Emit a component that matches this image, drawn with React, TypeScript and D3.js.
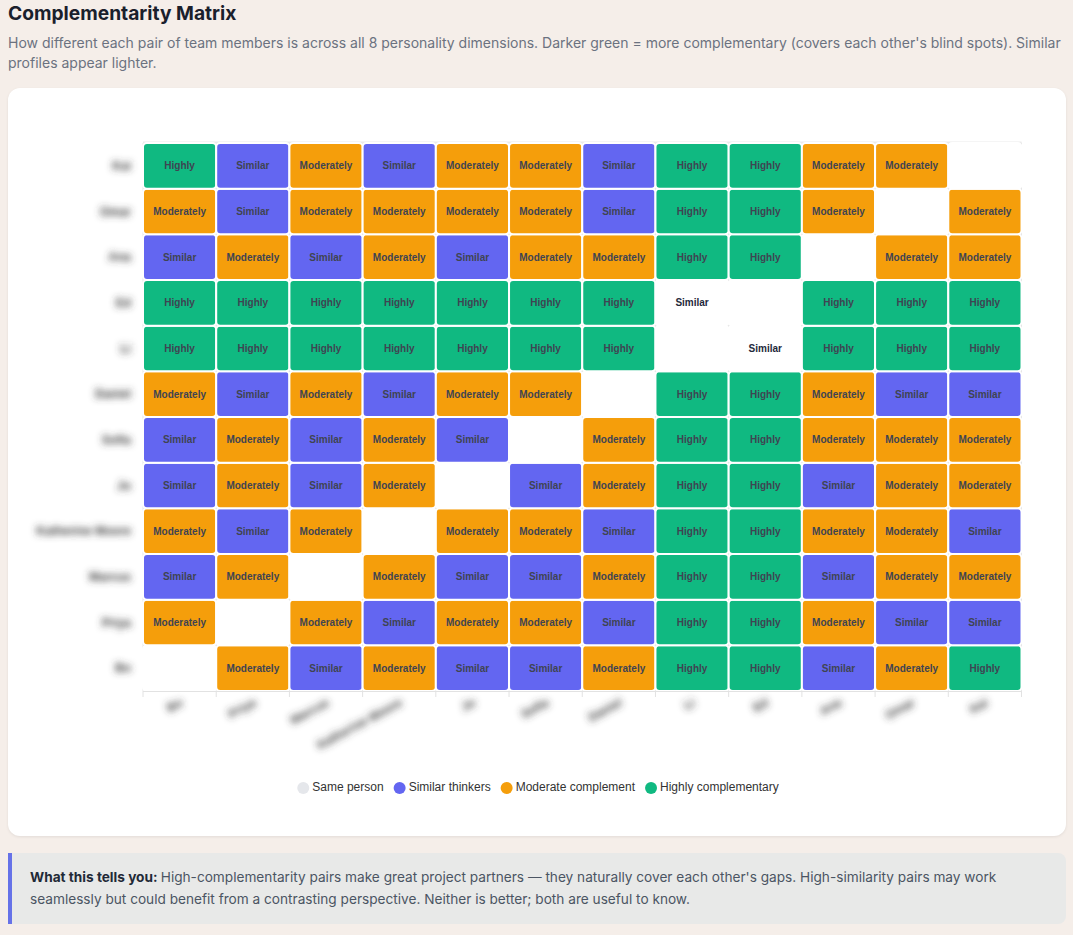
import React, { useMemo } from "react";
import * as d3 from "d3";

// Team members, in index order (first member sits at the bottom-left of the matrix)
const people = [
  "Bo", "Priya", "Marcus", "Katherine Moore", "Jo", "Sofia",
  "Daniel", "Li", "Ed", "Ana", "Omar", "Kai",
];

// Pair categories: "-" same person, "S" similar, "M" moderately, "H" highly, "s" near-identical (similar)
const pairMatrix = [
  ["-", "M", "S", "M", "S", "S", "M", "H", "H", "S", "M", "H"],
  ["M", "-", "M", "S", "M", "M", "S", "H", "H", "M", "S", "S"],
  ["S", "M", "-", "M", "S", "S", "M", "H", "H", "S", "M", "M"],
  ["M", "S", "M", "-", "M", "M", "S", "H", "H", "M", "M", "S"],
  ["S", "M", "S", "M", "-", "S", "M", "H", "H", "S", "M", "M"],
  ["S", "M", "S", "M", "S", "-", "M", "H", "H", "M", "M", "M"],
  ["M", "S", "M", "S", "M", "M", "-", "H", "H", "M", "S", "S"],
  ["H", "H", "H", "H", "H", "H", "H", "-", "s", "H", "H", "H"],
  ["H", "H", "H", "H", "H", "H", "H", "s", "-", "H", "H", "H"],
  ["S", "M", "S", "M", "S", "M", "M", "H", "H", "-", "M", "M"],
  ["M", "S", "M", "M", "M", "M", "S", "H", "H", "M", "-", "M"],
  ["H", "S", "M", "S", "M", "M", "S", "H", "H", "M", "M", "-"],
];

const cellLabels: Record<string, string> = {
  "-": "",
  S: "Similar",
  s: "Similar",
  M: "Moderately",
  H: "Highly",
};

const cellColors: Record<string, string> = {
  "-": "#ffffff",
  s: "#ffffff",
  S: "#6366f1",
  M: "#f59e0b",
  H: "#10b981",
};

const legendItems = [
  { label: "Same person", color: "#e5e7eb" },
  { label: "Similar thinkers", color: "#6366f1" },
  { label: "Moderate complement", color: "#f59e0b" },
  { label: "Highly complementary", color: "#10b981" },
];

const W = 1073;
const H = 935;
const plot = { left: 143, right: 1021.5, top: 143, bottom: 691 };

function measure(text: string, font: string): number {
  const ctx = document.createElement("canvas").getContext("2d");
  if (!ctx) return text.length * 6;
  ctx.font = font;
  return ctx.measureText(text).width;
}

function Matrix() {
  const idx = people.map((_, i) => i);
  const x = d3.scaleBand<number>().domain(idx).range([plot.left, plot.right]);
  const y = d3
    .scaleBand<number>()
    .domain([...idx].reverse())
    .range([plot.top, plot.bottom]);
  const bw = x.bandwidth();
  const bh = y.bandwidth();

  const cells = useMemo(() => {
    const out: { i: number; j: number; code: string }[] = [];
    pairMatrix.forEach((row, i) => row.forEach((code, j) => out.push({ i, j, code })));
    return out;
  }, []);

  const legendFont = "12px Arial, 'Liberation Sans', sans-serif";
  const widths = legendItems.map((d) => measure(d.label, legendFont));
  const itemW = widths.map((w) => 9 + w);
  const gap = 16;
  const total = d3.sum(itemW) + gap * (legendItems.length - 1) + 6;
  let cursor = 538 - total / 2 + 6;
  const legendPos = itemW.map((w) => {
    const p = cursor;
    cursor += w + gap;
    return p;
  });

  const gridXs = [...idx.map((i) => x(i) as number), plot.right];
  const gridYs = [...idx.map((i) => y(i) as number), plot.top];

  return (
    <svg
      width={W}
      height={H}
      style={{ position: "absolute", left: 0, top: 0, pointerEvents: "none" }}
    >
      <defs>
        <filter id="soft" x="-40%" y="-100%" width="180%" height="300%">
          <feGaussianBlur stdDeviation="3.6" />
        </filter>
      </defs>

      {/* grid behind the cells */}
      <g stroke="#e6e6e6" strokeWidth={1}>
        {gridXs.map((gx, k) => (
          <line key={"gx" + k} x1={gx} x2={gx} y1={plot.top} y2={plot.bottom} />
        ))}
        {gridYs.map((gy, k) => (
          <line key={"gy" + k} x1={plot.left} x2={plot.right} y1={gy} y2={gy} />
        ))}
      </g>
      <line x1={plot.left} x2={plot.right} y1={plot.top - 0.5} y2={plot.top - 0.5} stroke="#ebebeb" strokeWidth={2} />

      {/* cells */}
      <g>
        {cells.map(({ i, j, code }) => (
          <rect
            key={`c${i}-${j}`}
            x={x(j)}
            y={y(i)}
            width={bw}
            height={bh}
            rx={4}
            fill={cellColors[code]}
            stroke="#ffffff"
            strokeWidth={2}
          />
        ))}
      </g>
      <g
        fontFamily="Arial, 'Liberation Sans', sans-serif"
        fontSize={10}
        fontWeight={700}
        textAnchor="middle"
      >
        {cells
          .filter((c) => cellLabels[c.code])
          .map(({ i, j, code }) => (
            <text
              key={`t${i}-${j}`}
              x={(x(j) as number) + bw / 2}
              y={(y(i) as number) + bh / 2 + 3.5}
              fill={code === "s" ? "#1e293b" : "#3f4452"}
            >
              {cellLabels[code]}
            </text>
          ))}
      </g>

      {/* bottom axis */}
      <g stroke="#e2e2e2" strokeWidth={1}>
        <line x1={plot.left} x2={plot.right} y1={plot.bottom + 0.5} y2={plot.bottom + 0.5} />
        {gridXs.map((gx, k) => (
          <line key={"tk" + k} x1={gx} x2={gx} y1={plot.bottom} y2={plot.bottom + 6} />
        ))}
      </g>

      {/* member names, softened */}
      <g
        filter="url(#soft)"
        fontFamily="Arial, 'Liberation Sans', sans-serif"
        fontSize={12}
        fontWeight={700}
        fill="#3a3a3a"
      >
        {idx.map((i) => (
          <text
            key={"yl" + i}
            x={131}
            y={(y(i) as number) + bh / 2 + 4}
            textAnchor="end"
          >
            {people[i]}
          </text>
        ))}
        {idx.map((i) => {
          const cx = (x(i) as number) + bw / 2 + 4;
          const cy = plot.bottom + 14;
          return (
            <text
              key={"xl" + i}
              transform={`translate(${cx},${cy}) rotate(-28)`}
              textAnchor="end"
            >
              {people[i]}
            </text>
          );
        })}
      </g>

      {/* legend */}
      <g fontFamily="Arial, 'Liberation Sans', sans-serif" fontSize={12} fill="#333">
        {legendItems.map((d, k) => (
          <g key={d.label}>
            <circle cx={legendPos[k]} cy={788} r={6} fill={d.color} />
            <text x={legendPos[k] + 9} y={791}>
              {d.label}
            </text>
          </g>
        ))}
      </g>
    </svg>
  );
}

export default function App() {
  const font = "Inter, 'Noto Sans', 'Open Sans', sans-serif";
  return (
    <div
      style={{
        position: "absolute",
        left: 0,
        top: 0,
        width: W,
        height: H,
        background: "#f5eee9",
        overflow: "hidden",
        fontFamily: font,
      }}
    >
      <div
        style={{
          position: "absolute",
          left: 8,
          top: 2,
          fontSize: 19.2,
          lineHeight: "23px",
          fontWeight: 700,
          color: "#1a202c",
        }}
      >
        Complementarity Matrix
      </div>
      <div
        style={{
          position: "absolute",
          left: 8,
          top: 33,
          width: 1058,
          fontSize: 14,
          lineHeight: "19.5px",
          color: "#6b7280",
        }}
      >
        How different each pair of team members is across all 8 personality dimensions. Darker
        green = more complementary (covers each other's blind spots). Similar profiles appear
        lighter.
      </div>
      <div
        style={{
          position: "absolute",
          left: 8,
          top: 88,
          width: 1058,
          height: 748,
          background: "#ffffff",
          borderRadius: 12,
          boxShadow: "0 1px 3px rgba(0,0,0,0.08)",
        }}
      />
      <div
        style={{
          position: "absolute",
          left: 8,
          top: 853,
          width: 1058,
          height: 71,
          boxSizing: "border-box",
          background: "#e8e9e8",
          borderLeft: "4px solid #6672e8",
          borderRadius: "0 8px 8px 0",
          padding: "13px 18px 0 18px",
          fontSize: 13.65,
          lineHeight: "22px",
          color: "#4b5563",
        }}
      >
        <span style={{ color: "#1f2937", fontWeight: 700 }}>What this tells you: </span>
        <span>
          High-complementarity pairs make great project partners — they naturally cover each
          other's gaps. High-similarity pairs may work seamlessly but could benefit from a
          contrasting perspective. Neither is better; both are useful to know.
        </span>
      </div>
      <Matrix />
    </div>
  );
}
